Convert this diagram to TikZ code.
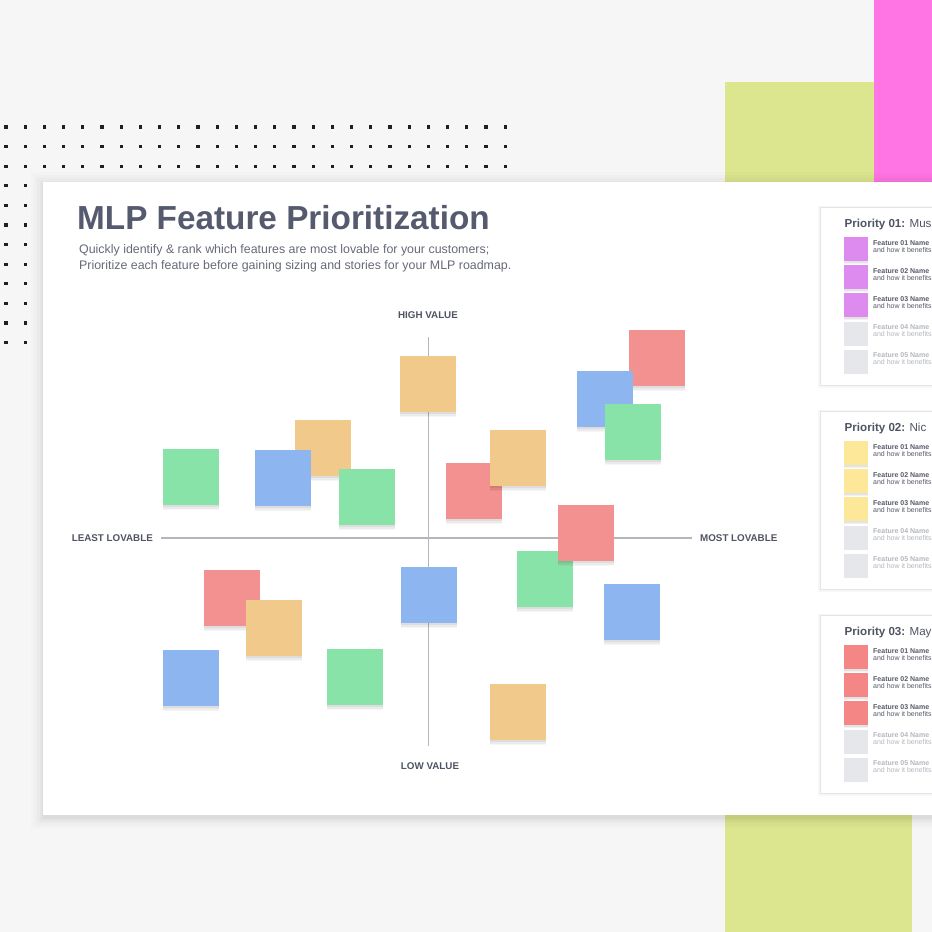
\documentclass[tikz,border=0pt]{standalone}
\usepackage{fontspec}
\setmainfont{Liberation Sans}
\definecolor{bg}{HTML}{F6F6F7}
\definecolor{limebar}{HTML}{DCE68F}
\definecolor{pinkbar}{HTML}{FF75E4}
\definecolor{dotc}{HTML}{1E1E24}
\definecolor{titlec}{HTML}{555A6E}
\definecolor{subc}{HTML}{666A78}
\definecolor{axisc}{HTML}{B4B6BD}
\definecolor{labc}{HTML}{4F5464}
\definecolor{orangeN}{HTML}{F0C98B}
\definecolor{greenN}{HTML}{88E3A9}
\definecolor{blueN}{HTML}{8DB5EF}
\definecolor{redN}{HTML}{F29190}
\definecolor{purpN}{HTML}{DE8BEF}
\definecolor{yelN}{HTML}{FDE799}
\definecolor{redC}{HTML}{F48686}
\definecolor{grayC}{HTML}{E6E7EA}
\definecolor{panelb}{HTML}{E3E4E7}
\definecolor{featd}{HTML}{565A66}
\definecolor{featl}{HTML}{B3B6BD}
\tikzset{
  softshadow/.style={
    preaction={fill=black, fill opacity=0.035, transform canvas={yshift=-5pt}},
    preaction={fill=black, fill opacity=0.045, transform canvas={yshift=-3.5pt}},
    preaction={fill=black, fill opacity=0.06, transform canvas={yshift=-2pt}}},
  smallshadow/.style={
    preaction={fill=black, fill opacity=0.05, transform canvas={yshift=-3pt}},
    preaction={fill=black, fill opacity=0.06, transform canvas={yshift=-1.5pt}}},
  note/.style={minimum width=56pt, minimum height=56pt, inner sep=0pt, outer sep=0pt, softshadow},
  chip/.style={minimum width=24pt, minimum height=24pt, inner sep=0pt, outer sep=0pt, anchor=north west},
  axislab/.style={font=\fontsize{9.8}{10}\selectfont\bfseries, text=labc, inner sep=0pt},
  panelbox/.style={fill=white, draw=panelb, line width=1pt, anchor=north west, minimum width=200pt,
    minimum height=178pt, inner sep=0pt},
  ptitle/.style={anchor=base west, inner sep=0pt, text=labc, font=\fontsize{11.6}{13}\selectfont},
  featname/.style={anchor=base west, inner sep=0pt, font=\fontsize{7}{8}\selectfont\bfseries},
  featsub/.style={anchor=base west, inner sep=0pt, font=\fontsize{7}{8}\selectfont},
}
\begin{document}
\begin{tikzpicture}[x=1pt,y=-1pt]
\useasboundingbox (0,0) rectangle (932,932);
\clip (0,0) rectangle (932,932);
% background
\fill[bg] (0,0) rectangle (932,932);
\fill[limebar] (725,82) rectangle (912,932);
\fill[pinkbar] (874,0) rectangle (932,182);
% dot grid
\foreach \i in {0,...,26}{
  \foreach \j in {0,...,11}{
    \fill[dotc] ({6+\i*19.2-1.6},{127+\j*19.6-1.6}) rectangle ++(3.2,3.2);
  }
}
% card with soft shadow
\foreach \d/\o in {12/0.012, 9/0.015, 6/0.02, 3.5/0.025, 1.5/0.03}{
  \fill[black, fill opacity=\o] (43-\d,182-\d+2) rectangle (990,815+\d+2);
}
\fill[white] (43,182) rectangle (980,815);
% title
\node[anchor=base west, inner sep=0pt, text=titlec, font=\fontsize{33.3}{36}\selectfont\bfseries] (title) at (77,229)
  {MLP Feature Prioritization};
\node[anchor=base west, inner sep=0pt, text=subc, font=\fontsize{12.4}{14}\selectfont] (sub1) at (79,253)
  {Quickly identify \& rank which features are most lovable for your customers;};
\node[anchor=base west, inner sep=0pt, text=subc, font=\fontsize{12.4}{14}\selectfont] (sub2) at (79,269)
  {Prioritize each feature before gaining sizing and stories for your MLP roadmap.};
% axes
\coordinate (vt) at (428.5,337);
\coordinate (vb) at (428.5,746);
\coordinate (hl) at (161,538);
\coordinate (hr) at (692,538);
\draw[axisc, line width=1.6pt] (vt) -- (vb);
\draw[axisc, line width=1.6pt] (hl) -- (hr);
\node[axislab] (hv) at (428,315) {HIGH VALUE};
\node[axislab] (lv) at (430,766) {LOW VALUE};
\node[axislab, anchor=east] (ll) at (153,538.5) {LEAST LOVABLE};
\node[axislab, anchor=west] (ml) at (700,538.5) {MOST LOVABLE};
% sticky notes
\node[note, fill=orangeN] (n1) at (428,384) {};
\node[note, fill=redN] (n2) at (657,358) {};
\node[note, fill=blueN] (n3) at (605,399) {};
\node[note, fill=greenN] (n4) at (633,432) {};
\node[note, fill=orangeN] (n5) at (323,448) {};
\node[note, fill=greenN] (n6) at (191,477) {};
\node[note, fill=blueN] (n7) at (283,478) {};
\node[note, fill=greenN] (n8) at (367,497) {};
\node[note, fill=redN] (n9) at (474,491) {};
\node[note, fill=orangeN] (n10) at (518,458) {};
\node[note, fill=greenN] (n11) at (545,579) {};
\node[note, fill=redN] (n12) at (586,533) {};
\node[note, fill=blueN] (n13) at (632,612) {};
\node[note, fill=blueN] (n14) at (429,595) {};
\node[note, fill=redN] (n15) at (232,598) {};
\node[note, fill=orangeN] (n16) at (274,628) {};
\node[note, fill=blueN] (n17) at (191,678) {};
\node[note, fill=greenN] (n18) at (355,677) {};
\node[note, fill=orangeN] (n19) at (518,712) {};
% priority panels
\foreach \p/\T/\c/\nm in {1/207/purpN/{Mus}, 2/411/yelN/{Nic}, 3/615/redC/{May}}{
  \fill[black, fill opacity=0.03] (818,\T-1) rectangle (990,\T+181);
  \node[panelbox] (panel\p) at (820,\T) {};
  \node[ptitle] (ptitle\p) at (844.5,\T+20) {\textbf{Priority 0\p:} \nm};
  \foreach \k in {1,...,5}{
    \pgfmathsetmacro{\yy}{\T+30+(\k-1)*28.2}
    \ifnum\k<4
      \node[chip, fill=\c, smallshadow] (chip\p\k) at (844,\yy) {};
      \node[featname, text=featd] (fn\p\k) at (873,\yy+8) {Feature 0\k{} Name};
      \node[featsub, text=featd] (fs\p\k) at (873,\yy+15) {and how it benefits};
    \else
      \node[chip, fill=grayC] (chip\p\k) at (844,\yy) {};
      \node[featname, text=featl] (fn\p\k) at (873,\yy+8) {Feature 0\k{} Name};
      \node[featsub, text=featl] (fs\p\k) at (873,\yy+15) {and how it benefits};
    \fi
  }
}
\end{tikzpicture}
\end{document}
